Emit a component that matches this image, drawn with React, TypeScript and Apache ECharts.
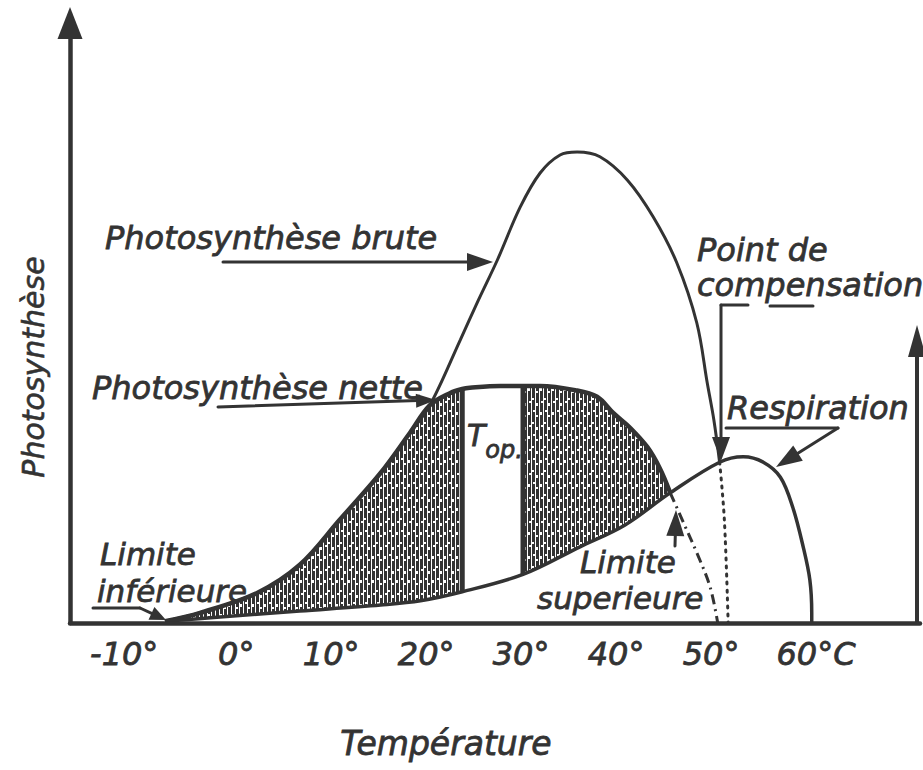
import React, { useEffect, useRef } from 'react';
import * as echarts from 'echarts';

const INK = '#333';
const FONT = '"DejaVu Sans", "Liberation Sans", sans-serif';

// Tick labels (°C)
const tickTemps = [-10, 0, 10, 20, 30, 40, 50, 60];

// Photosynthèse nette (temperature, relative value)
const netteT = [-7.5, -3.8, 2.2, 6.7, 10.9, 15.2, 18.3, 20.4, 22.5, 23.8, 24.6, 27.8, 30.2, 32, 35.7, 38, 39.7, 41.5, 43.3, 44.6, 45.7];
const netteV = [0.3, 1.7, 5, 9.7, 17.2, 25, 31.7, 36.3, 38.3, 39, 39.2, 39.5, 39.5, 39.5, 38.8, 37.7, 35, 32.5, 29.3, 25.8, 21.7];

// Respiration
const respT = [-7.5, -1.7, 6.7, 15.2, 19.4, 23.8, 30.2, 36.2, 40.9, 45.7, 50.9, 53.4, 55.5, 57.3, 58.6, 59.7, 60.4, 60.6, 60.6];
const respV = [0.3, 1, 2, 3, 3.7, 5.2, 8.1, 12.7, 16.3, 21.7, 26.8, 27.7, 26.8, 24.3, 19.3, 12.7, 7.2, 1.7, 0];

// Photosynthèse brute
const bruteT = [-7.5, -3.8, 2.2, 6.7, 10.9, 15.2, 18.3, 20.4, 23.6, 25.5, 27.5, 29.9, 32, 34.1, 35.9, 38.3, 41.2, 43.9, 46.4, 48.5, 49.6, 50.3, 50.9];
const bruteV = [0.3, 1.7, 5, 9.7, 17.2, 25, 31.7, 36.3, 47.2, 53.8, 60.5, 69.3, 75, 78, 78.5, 77.7, 73.8, 67.7, 60, 50, 40, 33.8, 26.8];

// Point de compensation (dotted drop)
const compT = [50.9, 51.4, 51.8];
const compV = [26.8, 17.2, 0];

// Limite supérieure (dash-dot drop)
const limT = [45.7, 47.1, 48.5, 49.9, 50.7];
const limV = [21.7, 16.7, 11.7, 6, 0];

// T optimum band edges
const topLow = 23.8;
const topHigh = 30.2;

const pairs = (t: number[], v: number[]) => t.map((x, i) => [x, v[i]]);
const valueAt = (t: number[], v: number[], x: number) => v[t.indexOf(x)];

function arrow(x1: number, y1: number, x2: number, y2: number, len: number, w: number) {
  const dx = x2 - x1, dy = y2 - y1, d = Math.hypot(dx, dy);
  const ux = dx / d, uy = dy / d;
  const bx = x2 - ux * len, by = y2 - uy * len;
  const nx = -uy, ny = ux;
  return [
    { type: 'line', z: 20, silent: true, shape: { x1, y1, x2: bx + ux * 2, y2: by + uy * 2 }, style: { stroke: INK, lineWidth: 3, lineCap: 'round' } },
    { type: 'polygon', z: 20, silent: true, shape: { points: [[x2, y2], [bx + nx * w / 2, by + ny * w / 2], [bx - nx * w / 2, by - ny * w / 2]] }, style: { fill: INK } },
  ];
}

function seg(x1: number, y1: number, x2: number, y2: number) {
  return { type: 'line', z: 20, silent: true, shape: { x1, y1, x2, y2 }, style: { stroke: INK, lineWidth: 3, lineCap: 'round' } };
}

function label(text: string, x: number, y: number, size = 32) {
  return {
    type: 'text', z: 20, silent: true,
    style: { text, x, y, fill: INK, stroke: INK, lineWidth: 0.8, fontSize: size, fontFamily: FONT, fontStyle: 'italic', align: 'left', verticalAlign: 'middle' },
  };
}

export default function App() {
  const ref = useRef<HTMLDivElement>(null);
  useEffect(() => {
    document.body.style.margin = '0';
    const chart = echarts.init(ref.current!, null, { renderer: 'svg' });

    const cv = document.createElement('canvas');
    cv.width = 12; cv.height = 24;
    const g = cv.getContext('2d')!;
    g.fillStyle = '#fff'; g.fillRect(0, 0, 12, 24);
    g.fillStyle = INK;
    for (let i = 0; i < 3; i++) g.fillRect(i * 4, 0, 3, 24);
    g.fillStyle = '#fff';
    [[0, 4, 3], [4, 14, 2], [8, 19, 3], [8, 7, 2], [1, 17, 2], [5, 2, 2]].forEach(([x, y, h]) => g.fillRect(x, y, 2, h));
    const hatch: any = { image: cv.toDataURL(), repeat: 'repeat', imageWidth: 12, imageHeight: 24 };

    const hatchData: any[] = [
      ...pairs(netteT, netteV).filter((p) => p[0] <= topLow),
      [(topLow + topHigh) / 2, null],
      ...pairs(netteT, netteV).filter((p) => p[0] >= topHigh),
    ];

    const S = 0.35;
    const base = { type: 'line', showSymbol: false, silent: true, smooth: S, animation: false };

    const baseRich = { fontSize: 32, fontFamily: FONT, fontStyle: 'italic', color: INK, textBorderColor: INK, textBorderWidth: 0.8 };

    const option: any = {
      animation: false,
      backgroundColor: '#fff',
      grid: [
        { left: 70, right: 3, top: 23, bottom: 147, outerBoundsMode: 'none' },
        { left: 600, right: 6, top: 341, bottom: 147, outerBoundsMode: 'none' },
      ],
      xAxis: [
        {
          type: 'value', min: -17.5, max: 72, z: 10,
          name: 'Température', nameLocation: 'middle', nameGap: 104,
          nameTextStyle: { fontSize: 33, fontFamily: FONT, fontStyle: 'italic', color: INK, textBorderColor: INK, textBorderWidth: 0.8, padding: [0, 98, 0, 0] },
          axisLine: { show: true, onZero: false, lineStyle: { color: INK, width: 4.5 } },
          axisTick: { show: false },
          splitLine: { show: false },
          axisLabel: {
            customValues: tickTemps, margin: 15, ...baseRich,
            formatter: (v: number) => (v === 60 ? '{r|60°C}' : v === -10 ? '{l|-10°}' : `${v}°`),
            rich: { r: { ...baseRich, padding: [0, 0, 0, 20] }, l: { ...baseRich, padding: [0, 34, 0, 0] } },
          },
        },
        { type: 'value', gridIndex: 1, show: false },
      ],
      yAxis: [
        {
          type: 'value', min: 0, max: 100, z: 10,
          name: 'Photosynthèse', nameLocation: 'middle', nameRotate: 90, nameGap: 22,
          nameTextStyle: { fontSize: 30, fontFamily: FONT, fontStyle: 'italic', color: INK, textBorderColor: INK, textBorderWidth: 0.6, padding: [0, 88, 0, 0] },
          axisLine: { show: true, onZero: false, symbol: ['none', 'triangle'], symbolSize: [25, 32], lineStyle: { color: INK, width: 4.5 } },
          axisTick: { show: false }, axisLabel: { show: false }, splitLine: { show: false },
        },
        {
          type: 'value', gridIndex: 1, position: 'right', min: 0, max: 1,
          axisLine: { show: true, onZero: false, symbol: ['none', 'triangle'], symbolSize: [18, 32], lineStyle: { color: INK, width: 4 } },
          axisTick: { show: false }, axisLabel: { show: false }, splitLine: { show: false },
        },
      ],
      series: [
        { ...base, name: 'hatch', data: hatchData, connectNulls: false, z: 1, lineStyle: { width: 0, opacity: 0 }, areaStyle: { color: hatch, opacity: 1 } },
        { ...base, name: 'mask', data: pairs(respT, respV), z: 2, lineStyle: { width: 0, opacity: 0 }, areaStyle: { color: '#fff', opacity: 1 } },
        { ...base, name: 'Photosynthèse brute', data: pairs(bruteT, bruteV), z: 3, lineStyle: { color: INK, width: 3 } },
        { ...base, name: 'Photosynthèse nette', data: pairs(netteT, netteV), z: 3, lineStyle: { color: INK, width: 4.5 } },
        { ...base, name: 'Respiration', data: pairs(respT, respV), z: 3, lineStyle: { color: INK, width: 3.5 } },
        { ...base, name: 'Point de compensation', data: pairs(compT, compV), z: 3, lineStyle: { color: INK, width: 3, type: [2, 6], cap: 'round' } },
        { ...base, name: 'Limite supérieure', data: pairs(limT, limV), z: 3, lineStyle: { color: INK, width: 3, type: [10, 5, 2, 5] } },
        { ...base, name: 'Top low', smooth: false, data: [[topLow, valueAt(respT, respV, topLow)], [topLow, valueAt(netteT, netteV, topLow)]], z: 3, lineStyle: { color: INK, width: 5 } },
        { ...base, name: 'Top high', smooth: false, data: [[topHigh, valueAt(respT, respV, topHigh)], [topHigh, valueAt(netteT, netteV, topHigh)]], z: 3, lineStyle: { color: INK, width: 5 } },
      ],
      graphic: [
        label('Photosynthèse brute', 105, 238),
        ...arrow(223, 262, 493, 262, 26, 18),
        label('Photosynthèse nette', 92, 388),
        ...arrow(218, 407, 436, 400, 20, 14),
        label('Point de', 697, 250),
        label('compensation', 697, 285),
        seg(721, 305, 748, 305),
        seg(770, 306, 813, 306),
        ...arrow(721, 305, 721, 461, 24, 18),
        label('Respiration', 727, 408),
        seg(726, 428, 838, 428),
        ...arrow(838, 428, 776, 467, 26, 18),
        label('Limite', 100, 554, 31),
        label('inférieure', 97, 591, 31),
        seg(93, 608, 140, 608),
        ...arrow(140, 608, 166, 620, 16, 14),
        label('Limite', 580, 562, 31),
        label('superieure', 537, 598, 31),
        ...arrow(675, 546, 676, 510, 26, 18),
        {
          type: 'text', z: 20, silent: true,
          style: {
            text: '{a|T}{b|op.}', x: 467, y: 420, align: 'left', verticalAlign: 'top',
            rich: {
              a: { fontSize: 30, fontFamily: FONT, fontStyle: 'italic', fill: INK, stroke: INK, lineWidth: 0.8, verticalAlign: 'top' },
              b: { fontSize: 24, fontFamily: FONT, fontStyle: 'italic', fill: INK, stroke: INK, lineWidth: 0.8, verticalAlign: 'top', padding: [18, 0, 0, 0] },
            },
          },
        },
      ],
    };
    chart.setOption(option);
    return () => chart.dispose();
  }, []);
  return <div ref={ref} style={{ width: 923, height: 770 }} />;
}
